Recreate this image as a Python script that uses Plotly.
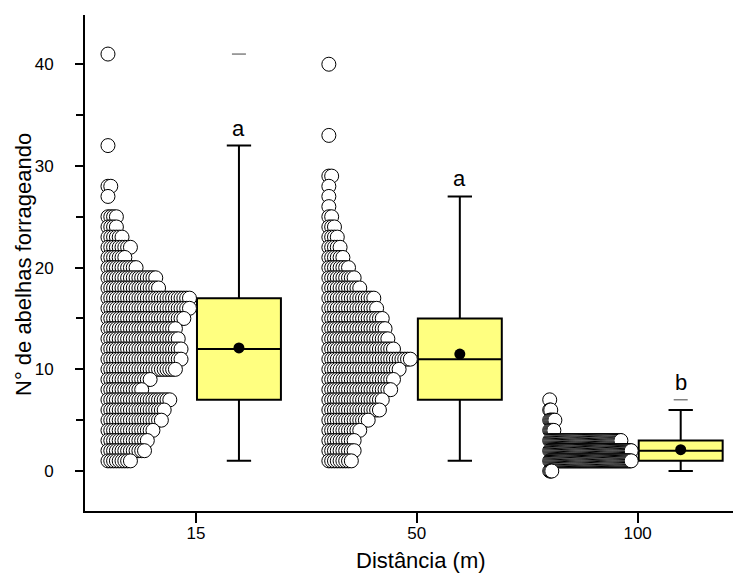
import plotly.graph_objects as go

# ---------------- data ----------------
CATEGORIES = ["15", "50", "100"]

# observed values (bees foraging) and how many observations had each value
VALUES_15 = [41, 32, 28, 27, 25, 24, 23, 22, 21, 20, 19, 18, 17, 16, 15, 14, 13,
             12, 11, 10, 9, 8, 7, 6, 5, 4, 3, 2, 1]
COUNTS_15 = [1, 1, 2, 1, 4, 4, 6, 9, 7, 11, 18, 19, 30, 30, 28, 25, 26,
             27, 27, 25, 16, 13, 23, 21, 20, 17, 15, 14, 9]

VALUES_50 = [40, 33, 29, 28, 27, 26, 25, 24, 23, 22, 21, 20, 19, 18, 17, 16, 15,
             14, 13, 12, 11, 10, 9, 8, 7, 6, 5, 4, 3, 2, 1]
COUNTS_50 = [1, 1, 2, 1, 1, 1, 2, 3, 4, 5, 6, 8, 10, 12, 17, 18, 20,
             21, 22, 24, 30, 26, 24, 23, 20, 19, 15, 12, 10, 10, 9]

VALUES_100 = [7, 6, 5, 4, 3, 2, 1, 0]
COUNTS_100 = [1, 2, 6, 5, 70, 80, 80, 3]

# box statistics
Q1 = [7, 7, 1]
MEDIAN = [12, 11, 2]
Q3 = [17, 15, 3]
LOWER_WHISKER = [1, 1, 0]
UPPER_WHISKER = [32, 27, 6]
MEAN = [12.1, 11.5, 2.1]
MAX_VALUE = [41, None, 7]
LETTERS = ["a", "a", "b"]

# ---------------- style / layout constants ----------------
FONT = "Arial, Liberation Sans, sans-serif"
BOX_SHIFT = 0.195
BOX_WIDTH = 0.38
SWARM_START = -0.398
SWARM_SPAN = 0.369
PAGE_OFFSET = 8          # default body margin of the html page
W, H = 741 - PAGE_OFFSET, 576 - PAGE_OFFSET
L, R, T = 85 - PAGE_OFFSET, 0, 15 - PAGE_OFFSET
PLOT_H = 496
B = H - T - PLOT_H

groups = [(VALUES_15, COUNTS_15), (VALUES_50, COUNTS_50), (VALUES_100, COUNTS_100)]

fig = go.Figure()

for gi, (vals, cnts) in enumerate(groups):
    step = SWARM_SPAN / (max(cnts) - 1)
    xs, ys = [], []
    for v, c in zip(vals, cnts):
        for k in range(c):
            xs.append(gi + SWARM_START + k * step)
            ys.append(v)
    fig.add_trace(go.Scatter(
        x=xs, y=ys, mode="markers", showlegend=False, hoverinfo="skip",
        marker=dict(symbol="circle", size=14, color="white",
                    line=dict(color="black", width=1)),
    ))

box_x = [i + BOX_SHIFT for i in range(len(CATEGORIES))]
fig.add_trace(go.Box(
    x=box_x, q1=Q1, median=MEDIAN, q3=Q3,
    lowerfence=LOWER_WHISKER, upperfence=UPPER_WHISKER,
    width=BOX_WIDTH, whiskerwidth=0.29, boxpoints=False,
    fillcolor="#FFFF80", line=dict(color="black", width=2),
    showlegend=False, hoverinfo="skip",
))

fig.add_trace(go.Scatter(
    x=box_x, y=MEAN, mode="markers", showlegend=False,
    marker=dict(symbol="circle", size=11, color="black"),
))

mx = [x for x, m in zip(box_x, MAX_VALUE) if m is not None]
my = [m for m in MAX_VALUE if m is not None]
fig.add_trace(go.Scatter(
    x=mx, y=my, mode="markers", showlegend=False,
    marker=dict(symbol="line-ew", size=10, line=dict(color="#444444", width=1)),
))

annotations = []
for x, top, mval, lab in zip(box_x, UPPER_WHISKER, MAX_VALUE, LETTERS):
    ytop = mval if (mval is not None and lab == "b") else top
    annotations.append(dict(
        x=x, y=ytop, xref="x", yref="y", text=lab, showarrow=False,
        yanchor="bottom", yshift=3,
        font=dict(family=FONT, size=22, color="black"),
    ))

pw = W - L - R
annotations.append(dict(
    x=(421 - 85) / pw, y=(511 - 560) / PLOT_H, xref="paper", yref="paper",
    text="Distância (m)", showarrow=False, xanchor="center", yanchor="middle",
    font=dict(family=FONT, size=22, color="black"),
))
annotations.append(dict(
    x=(23 - 85) / pw, y=(511 - 265) / PLOT_H, xref="paper", yref="paper",
    text="N° de abelhas forrageando", showarrow=False, textangle=-90,
    xanchor="center", yanchor="middle",
    font=dict(family=FONT, size=22, color="black"),
))

fig.update_layout(
    width=W, height=H,
    margin=dict(l=L, r=R, t=T, b=B, pad=0),
    paper_bgcolor="white", plot_bgcolor="white",
    annotations=annotations,
    font=dict(family=FONT, color="black"),
    xaxis=dict(
        range=[-0.502, 2.468], tickmode="array",
        tickvals=list(range(len(CATEGORIES))), ticktext=CATEGORIES,
        showline=True, linecolor="black", linewidth=2, mirror=False,
        ticks="outside", ticklen=10, tickwidth=1.5, tickcolor="black",
        showgrid=False, zeroline=False,
        tickfont=dict(family=FONT, size=17, color="black"),
        ticklabelstandoff=-4,
    ),
    yaxis=dict(
        range=[-3.93, 44.84], tickmode="linear", tick0=0, dtick=10,
        showline=True, linecolor="black", linewidth=2, mirror=False,
        ticks="outside", ticklen=8, tickwidth=1.5, tickcolor="black",
        minor=dict(ticks="outside", ticklen=7, dtick=5, tick0=0,
                   tickwidth=1.5, tickcolor="black", showgrid=False),
        showgrid=False, zeroline=False,
        tickfont=dict(family=FONT, size=17, color="black"),
        ticklabelstandoff=18,
    ),
)

fig.write_html("out.html")
